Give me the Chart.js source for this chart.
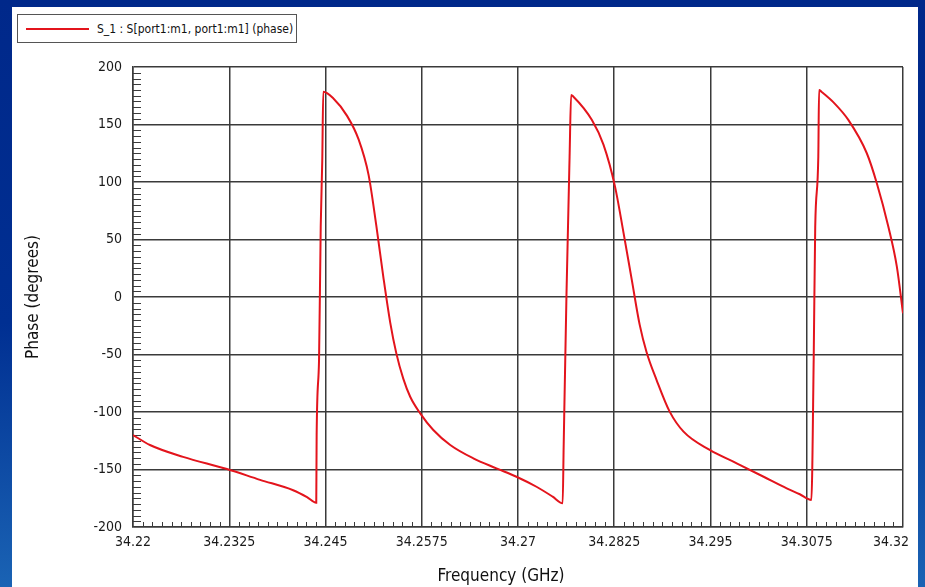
<!DOCTYPE html>
<html lang="en">
<head>
    <meta charset="UTF-8">
    <title>S_1 Phase vs Frequency</title>
    <script src="https://cdn.jsdelivr.net/npm/chart.js"></script>
    <style>
        html, body {
            margin: 0;
            padding: 0;
            width: 925px;
            height: 587px;
            overflow: hidden;
        }

        body {
            background: linear-gradient(to bottom, #00288a 0%, #002f92 55%, #1a63b4 100%);
            position: relative;
        }

        .panel {
            position: absolute;
            left: 12px;
            top: 7px;
            width: 906px;
            height: 580px;
            background: #ffffff;
        }

        .legend {
            position: absolute;
            left: 17px;
            top: 14px;
            width: 278px;
            height: 27px;
            border: 1.5px solid #555;
            background: #fff;
            font-family: 'DejaVu Sans Condensed', 'DejaVu Sans', sans-serif;
            font-size: 12px;
            color: #111;
            display: flex;
            align-items: center;
            z-index: 2;
        }

        .legend .swatch {
            display: inline-block;
            width: 63px;
            height: 2px;
            background: #e3141c;
            margin: 0 8px 0 8px;
        }

        canvas {
            position: absolute;
            left: 0;
            top: 0;
        }
    </style>
</head>
<body>
    <div class="panel"></div>
    <div class="legend"><span class="swatch"></span><span>S_1 : S[port1:m1, port1:m1] (phase)</span></div>
    <canvas id="phaseChart" width="925" height="587"></canvas>

    <script>
        // values
        const freqGHz = [
            34.22, 34.2222, 34.2265, 34.2322, 34.2365, 34.2408, 34.2426, 34.2438,
            34.24385, 34.24416, 34.24438, 34.24458, 34.24471,
            34.2460, 34.2478, 34.2493, 34.2506, 34.2516, 34.2525, 34.2534, 34.2542,
            34.2551, 34.2560, 34.2573, 34.2590, 34.2612, 34.2642, 34.2672, 34.2698,
            34.2724, 34.2745, 34.2758,
            34.27593, 34.2763, 34.2767, 34.2769,
            34.2772, 34.2796, 34.2811, 34.2826, 34.2837, 34.2848, 34.2858, 34.2867,
            34.2880, 34.2897, 34.2915, 34.2949, 34.2984, 34.3019, 34.3049, 34.3066,
            34.3081,
            34.3084, 34.3086, 34.3090, 34.3091,
            34.3094, 34.3111, 34.3129, 34.3153, 34.3166, 34.3181, 34.3192, 34.32
        ];
        const phaseDeg = [
            -120, -128.7, -139, -149.6, -159, -168, -174, -179,
            -120, -55, 61, 119, 178.5,
            172.8, 157.5, 137, 106, 62, 18, -22, -49,
            -71, -86.7, -101.2, -115.7, -128.7, -140.3, -149, -156.3,
            -165, -173.6, -179.4,
            -130, 3.5, 122, 175.7,
            174.2, 153.9, 132.5, 96, 56, 14, -24, -48,
            -72.2, -99.7, -117.1, -133, -144.6, -156.3, -166.4, -171.5,
            -176.5,
            -54.8, 61, 122, 180,
            178.5, 168.4, 154, 125, 98.9, 61, 26.4, -14.2
        ];
        const xTickValues = [34.22, 34.2325, 34.245, 34.2575, 34.27, 34.2825, 34.295, 34.3075, 34.32];
        const yTickValues = [200, 150, 100, 50, 0, -50, -100, -150, -200];
        const seriesLabel = 'S_1 : S[port1:m1, port1:m1] (phase)';

        const points = freqGHz.map((f, i) => ({ x: f, y: phaseDeg[i] }));

        const gridColor = '#3a3a3a';
        const fontFamily = "'DejaVu Sans Condensed', 'DejaVu Sans', sans-serif";

        // small inner ticks like the original plot
        const minorTicks = {
            id: 'minorTicks',
            beforeDatasetsDraw(chart) {
                const { ctx, chartArea, scales } = chart;
                ctx.save();
                ctx.strokeStyle = gridColor;
                ctx.lineWidth = 1;
                ctx.beginPath();
                for (let v = -200; v <= 200; v += 5) {
                    if (v % 50 === 0) continue;
                    const y = Math.round(scales.y.getPixelForValue(v)) + 0.5;
                    ctx.moveTo(chartArea.left, y);
                    ctx.lineTo(chartArea.left + 8, y);
                }
                for (let k = 0; k <= 80; k++) {
                    if (k % 10 === 0) continue;
                    const x = Math.round(scales.x.getPixelForValue(34.22 + k * 0.00125)) + 0.5;
                    ctx.moveTo(x, chartArea.bottom);
                    ctx.lineTo(x, chartArea.bottom - 5);
                }
                ctx.stroke();
                ctx.restore();
            }
        };

        const lastX = xTickValues[xTickValues.length - 1];

        new Chart(document.getElementById('phaseChart'), {
            type: 'line',
            data: {
                datasets: [{
                    label: seriesLabel,
                    data: points,
                    borderColor: '#e3141c',
                    borderWidth: 2,
                    pointRadius: 0,
                    cubicInterpolationMode: 'monotone',
                    fill: false
                }]
            },
            options: {
                responsive: false,
                animation: false,
                layout: { padding: { left: 0, top: 67, right: 22, bottom: 0 } },
                plugins: {
                    legend: { display: false },
                    tooltip: { enabled: false }
                },
                scales: {
                    x: {
                        type: 'linear',
                        min: 34.22,
                        max: 34.32,
                        afterBuildTicks: (scale) => { scale.ticks = xTickValues.map(v => ({ value: v })); },
                        afterFit: (scale) => {
                            scale.height = 60;
                            scale.paddingLeft = 0;
                            scale.paddingRight = 0;
                        },
                        ticks: {
                            // last label sits a little inside the frame, like the original
                            callback: (v) => {
                                const s = String(Number(v.toFixed(4)));
                                return v === lastX ? s + '      ' : s;
                            },
                            color: '#1a1a1a',
                            padding: 7,
                            maxRotation: 0,
                            autoSkip: false,
                            font: { family: fontFamily, size: 14 }
                        },
                        grid: { color: gridColor, lineWidth: 1.5, drawTicks: false },
                        border: { color: gridColor, width: 1.5 },
                        title: {
                            display: true,
                            // trailing spaces nudge the centred title left, as in the original
                            text: 'Frequency (GHz)       ',
                            color: '#111',
                            padding: { top: 6, bottom: 0 },
                            font: { family: fontFamily, size: 17 }
                        }
                    },
                    y: {
                        min: -200,
                        max: 200,
                        afterBuildTicks: (scale) => { scale.ticks = yTickValues.map(v => ({ value: v })); },
                        afterFit: (scale) => { scale.width = 133; },
                        ticks: {
                            color: '#1a1a1a',
                            padding: 11,
                            font: { family: fontFamily, size: 14 }
                        },
                        grid: { color: gridColor, lineWidth: 1.5, drawTicks: false },
                        border: { color: gridColor, width: 1.5 },
                        title: {
                            display: true,
                            text: 'Phase (degrees)',
                            color: '#111',
                            padding: { top: 23, bottom: 0 },
                            font: { family: fontFamily, size: 17 }
                        }
                    }
                }
            },
            plugins: [minorTicks]
        });
    </script>
</body>
</html>
